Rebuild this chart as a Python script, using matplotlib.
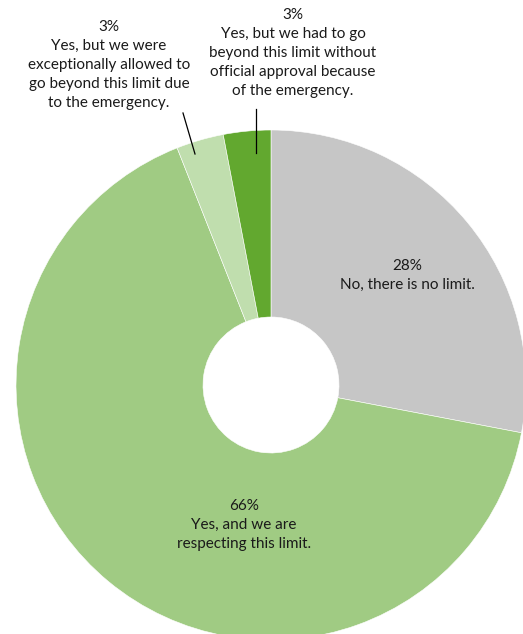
import matplotlib
matplotlib.use("Agg")
import matplotlib.pyplot as plt

# data (clockwise from 12 o'clock)
labels = ["No, there is no limit.",
          "Yes, and we are\nrespecting this limit.",
          "Yes, but we were\nexceptionally allowed to\ngo beyond this limit due\nto the emergency.",
          "Yes, but we had to go\nbeyond this limit without\nofficial approval because\nof the emergency."]
values = [28, 66, 3, 3]
colors = ["#c6c6c6", "#a0cb83", "#c0deae", "#62a82f"]

W, H = 523, 634
plt.rcParams['font.family'] = ['Lato', 'DejaVu Sans']

fig = plt.figure(figsize=(W / 100, H / 100), dpi=100)
ax = fig.add_axes([0, 0, 1, 1])

# pixel coordinates, y measured from top -> flip for matplotlib
cx, cy, R = 271, 385, 255
ax.pie(values, colors=colors, startangle=90, counterclock=False,
       center=(cx, H - cy), radius=R,
       wedgeprops=dict(width=R - 68, edgecolor="white", linewidth=0.4))
ax.set_xlim(0, W)
ax.set_ylim(0, H)
ax.set_aspect("equal")
ax.axis("off")

fs = 11
txt = dict(ha="center", va="top", fontsize=fs, color="#1a1a1a", linespacing=1.45)

ax.text(407, H - 259, f"{values[0]}%\n" + labels[0], **txt)
ax.text(244, H - 499, f"{values[1]}%\n" + labels[1], **txt)
ax.text(109, H - 20, f"{values[2]}%\n" + labels[2], **txt)
ax.text(293, H - 8, f"{values[3]}%\n" + labels[3], **txt)

# leader lines
ax.plot([183, 195], [H - 113, H - 154], color="black", lw=0.9)
ax.plot([256, 256], [H - 109, H - 153], color="black", lw=0.9)

fig.savefig("out.png", dpi=100, facecolor="white")
